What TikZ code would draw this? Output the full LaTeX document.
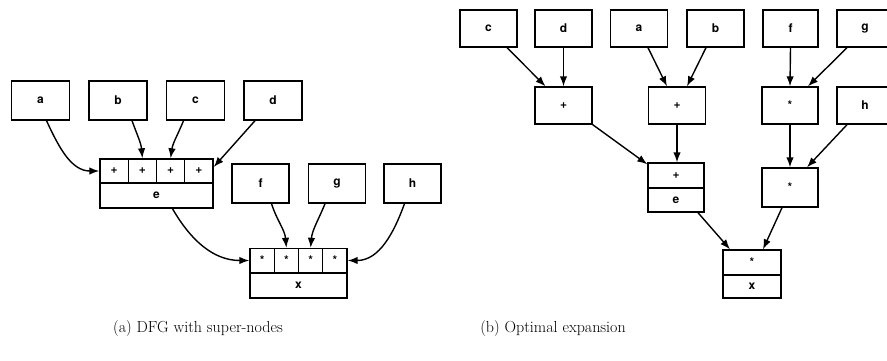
\documentclass[tikz,border=0pt]{standalone}
\usepackage{fontspec}
\setsansfont{TeX Gyre Heros}
\usetikzlibrary{arrows.meta}
\begin{document}
\begin{tikzpicture}[x=1pt,y=1pt,
  every node/.style={inner sep=0pt, font=\sffamily\bfseries\fontsize{12}{14}\selectfont},
  box/.style={draw, line width=1.4pt, minimum width=58pt, minimum height=39pt},
  rbox/.style={draw, line width=1.4pt, minimum width=57pt, minimum height=37pt},
  cell/.style={draw, line width=1.4pt, minimum height=24pt},
  base/.style={draw, line width=1.4pt, minimum height=25pt},
  edge/.style={line width=1.4pt, -{Latex[length=10pt,width=7.5pt]}},
  caption/.style={font=\rmfamily\fontsize{16}{19}\selectfont}]
\useasboundingbox (0,0) rectangle (887,360);

% ---------- (a) DFG with super-nodes ----------
\node[box] (a) at (40.5,259.5) {a};
\node[box] (b) at (118,259.5) {b};
\node[box] (c) at (195.5,259.5) {c};
\node[box] (d) at (273,259.5) {d};

% super-node e: four adders over one result cell
\node[cell, minimum width=28.25pt] (e1) at (114.1,189) {+};
\node[cell, minimum width=28.25pt] (e2) at (142.4,189) {+};
\node[cell, minimum width=28.25pt] (e3) at (170.6,189) {+};
\node[cell, minimum width=28.25pt] (e4) at (198.9,189) {+};
\node[base, minimum width=113pt] (e) at (156.5,164.5) {e};

\node[box, minimum width=57pt] (f) at (260.5,176.5) {f};
\node[box, minimum width=57pt] (g) at (337,176.5) {g};
\node[box, minimum width=57pt] (h) at (412.5,176.5) {h};

% super-node x: four multipliers over one result cell
\node[cell, minimum width=24.25pt] (x1) at (262.1,99.5) {*};
\node[cell, minimum width=24.25pt] (x2) at (286.4,99.5) {*};
\node[cell, minimum width=24.25pt] (x3) at (310.6,99.5) {*};
\node[cell, minimum width=24.25pt] (x4) at (334.9,99.5) {*};
\node[base, minimum width=97pt] (x) at (298.5,74.5) {x};

\draw[edge] ([xshift=6pt]a.south) to[out=-65,in=180] (e1.west);
\draw[edge] ([xshift=14pt]b.south) to[out=-70,in=95] (e2.north);
\draw[edge] ([xshift=-12pt]c.south) to[out=-112,in=82] (e3.north);
\draw[edge] ([xshift=-18pt]d.south) -- ([yshift=4pt]e4.east);
\draw[edge] ([xshift=16pt]e.south) to[out=-60,in=180] (x1.west);
\draw[edge] ([xshift=11pt]f.south) to[out=-72,in=95] (x2.north);
\draw[edge] ([xshift=-12pt]g.south) to[out=-112,in=85] (x3.north);
\draw[edge] ([xshift=-8pt]h.south) to[out=-110,in=0] (x4.east);

\node[caption] (capa) at (198,31) {(a) DFG with super-nodes};

% ---------- (b) Optimal expansion ----------
\node[rbox] (rc) at (488.5,331.5) {c};
\node[rbox] (rd) at (563.5,331.5) {d};
\node[rbox] (ra) at (639,331.5) {a};
\node[rbox] (rb) at (715.5,331.5) {b};
\node[rbox, minimum width=55pt] (rf) at (790.5,331.5) {f};
\node[rbox, minimum width=56pt] (rg) at (865,331.5) {g};

\node[rbox] (p1) at (563.5,254.5) {+};
\node[rbox] (p2) at (677,254.5) {+};
\node[rbox, minimum width=56pt] (s1) at (790,254.5) {*};
\node[rbox, minimum width=56pt] (rh) at (865,254.5) {h};

\node[base, minimum width=56pt] (en1) at (676,184.5) {+};
\node[base, minimum width=56pt, minimum height=24pt] (en2) at (676,160) {e};

\node[draw, line width=1.4pt, minimum width=56pt, minimum height=39pt] (s2) at (790,172.5) {*};

\node[base, minimum width=58pt] (rx1) at (752,97.5) {*};
\node[base, minimum width=58pt, minimum height=23pt] (rx2) at (752,73.5) {x};

\draw[edge] ([xshift=18.5pt]rc.south) -- ([xshift=-18pt]p1.north);
\draw[edge] (rd.south) -- (p1.north);
\draw[edge] ([xshift=9pt]ra.south) -- ([xshift=-10pt]p2.north);
\draw[edge] ([xshift=-9.5pt]rb.south) -- ([xshift=10pt]p2.north);
\draw[edge] (p2.south) -- ([xshift=1pt]en1.north);
\draw[edge] (p1.south east) -- ([yshift=-2pt]en1.north west);
\draw[edge] (rf.south) -- (s1.north);
\draw[edge] ([xshift=-18pt]rg.south) -- ([xshift=18pt]s1.north);
\draw[edge] (s1.south) -- (s2.north);
\draw[edge] ([xshift=-18pt]rh.south) -- ([xshift=17pt]s2.north);
\draw[edge] ([xshift=22pt]en2.south) -- ([xshift=-22pt]rx1.north);
\draw[edge] ([xshift=-8pt]s2.south) -- ([xshift=11pt]rx1.north);

\node[caption] (capb) at (553,31) {(b) Optimal expansion};
\end{tikzpicture}
\end{document}
